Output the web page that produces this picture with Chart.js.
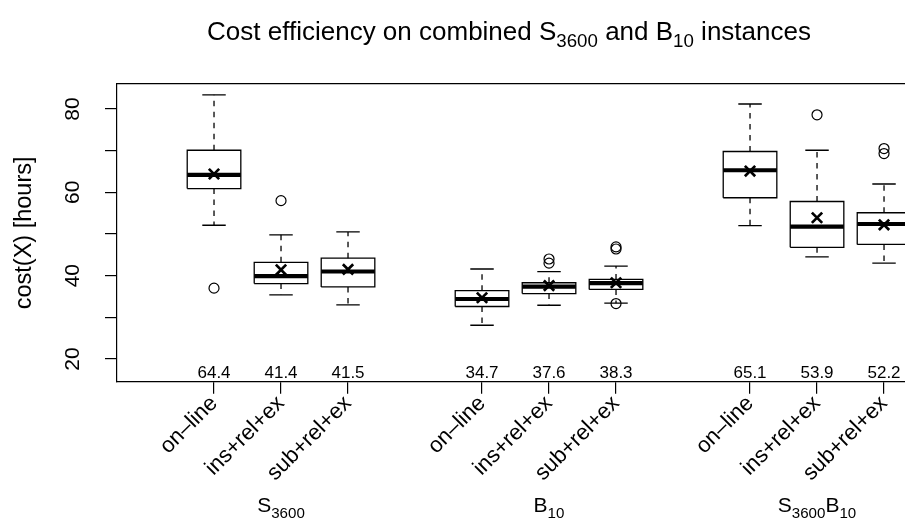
<!DOCTYPE html>
<html>
<head>
<meta charset="utf-8">
<script src="https://cdn.jsdelivr.net/npm/chart.js@4.4.1/dist/chart.umd.min.js"></script>
<style>
  html, body { margin: 0; padding: 0; background: #fff; overflow: hidden; }
  #wrap { width: 905px; height: 524px; }
</style>
</head>
<body>
<div id="wrap"><canvas id="chart" width="905" height="524"></canvas></div>
<script>
// ---- data -------------------------------------------------------------
const methods   = ['on\u2013line', 'ins+rel+ex', 'sub+rel+ex'];
const positions = [1, 2, 3, 5, 6, 7, 9, 10, 11];
const groupCenters = [2, 6, 10];
// group names as [text, isSubscript] runs
const groupLabels = [
  [['S', false], ['3600', true]],
  [['B', false], ['10', true]],
  [['S', false], ['3600', true], ['B', false], ['10', true]]
];
const lowerWhisker = [52.1, 35.4, 33.0, 28.1, 32.9, 33.4, 52.0, 44.5, 43.0];
const lowerQuart   = [60.9, 38.1, 37.3, 32.6, 35.7, 36.7, 58.7, 46.8, 47.5];
const medians      = [64.2, 39.9, 41.0, 34.4, 37.35, 38.2, 65.3, 51.75, 52.4];
const upperQuart   = [70.1, 43.2, 44.2, 36.4, 38.3, 39.1, 69.8, 57.8, 55.1];
const upperWhisker = [83.4, 49.8, 50.5, 41.6, 40.95, 42.3, 81.2, 70.1, 62.0];
const means        = [64.4, 41.4, 41.5, 34.7, 37.6, 38.3, 65.1, 53.9, 52.2];
const outliers     = [[37.0], [58.0], [], [], [44.0, 43.0], [46.9, 46.4, 33.3], [], [78.6], [70.5, 69.3]];
const yTickValues  = [20, 30, 40, 50, 60, 70, 80];
const yTickLabels  = ['20', '', '40', '', '60', '', '80'];
const meanLabelY   = 16.6;

// ---- geometry of a box (in x-axis units) ------------------------------
const BOX_HALF = 0.4;
const CAP_HALF = 0.175;
const GAP = (x) => ({ x: x, y: null });

const boxPts = [], medPts = [], whiskPts = [], capPts = [], meanPts = [], outPts = [];
positions.forEach((p, i) => {
  boxPts.push({ x: p - BOX_HALF, y: lowerQuart[i] }, { x: p + BOX_HALF, y: lowerQuart[i] },
              { x: p + BOX_HALF, y: upperQuart[i] }, { x: p - BOX_HALF, y: upperQuart[i] },
              { x: p - BOX_HALF, y: lowerQuart[i] }, GAP(p));
  medPts.push({ x: p - BOX_HALF, y: medians[i] }, { x: p + BOX_HALF, y: medians[i] }, GAP(p));
  whiskPts.push({ x: p, y: upperQuart[i] }, { x: p, y: upperWhisker[i] }, GAP(p),
                { x: p, y: lowerQuart[i] }, { x: p, y: lowerWhisker[i] }, GAP(p));
  capPts.push({ x: p - CAP_HALF, y: upperWhisker[i] }, { x: p + CAP_HALF, y: upperWhisker[i] }, GAP(p),
              { x: p - CAP_HALF, y: lowerWhisker[i] }, { x: p + CAP_HALF, y: lowerWhisker[i] }, GAP(p));
  meanPts.push({ x: p, y: means[i] });
  outliers[i].forEach(v => outPts.push({ x: p, y: v }));
});

const FONT = '"Liberation Sans", Arial, Helvetica, sans-serif';
const lineStyle = { type: 'line', pointRadius: 0, pointHoverRadius: 0, tension: 0, fill: false,
                    borderColor: '#000', spanGaps: false, borderCapStyle: 'butt' };

// ---- text with subscripts ----------------------------------------------
function drawRuns(ctx, runs, cx, baseline, size) {
  const subSize = size * 0.72;
  const widths = runs.map(([t, sub]) => {
    ctx.font = (sub ? subSize : size) + 'px ' + FONT;
    return ctx.measureText(t).width;
  });
  let x = cx - widths.reduce((a, b) => a + b, 0) / 2;
  ctx.textAlign = 'left';
  ctx.textBaseline = 'alphabetic';
  runs.forEach(([t, sub], k) => {
    ctx.font = (sub ? subSize : size) + 'px ' + FONT;
    ctx.fillText(t, x, baseline + (sub ? size * 0.28 : 0));
    x += widths[k];
  });
}

const annotations = {
  id: 'annotations',
  afterDraw(chart) {
    const { ctx, scales: { x, y } } = chart;
    ctx.save();
    ctx.fillStyle = '#000';
    // main title
    drawRuns(ctx, [['Cost efficiency on combined ', false], ['S', false], ['3600', true],
                   [' and ', false], ['B', false], ['10', true], [' instances', false]],
             509, 40, 26);
    // mean values along the bottom of the plot
    ctx.font = '17px ' + FONT;
    ctx.textAlign = 'center';
    ctx.textBaseline = 'middle';
    positions.forEach((p, i) => {
      ctx.fillText(means[i].toFixed(1), x.getPixelForValue(p), y.getPixelForValue(meanLabelY));
    });
    // group names under the method labels
    groupCenters.forEach((g, k) => drawRuns(ctx, groupLabels[k], x.getPixelForValue(g), 512, 21));
    ctx.restore();
  }
};

new Chart(document.getElementById('chart'), {
  type: 'line',
  data: {
    datasets: [
      Object.assign({}, lineStyle, { data: whiskPts, borderWidth: 1.3, borderDash: [5.5, 5.5] }),
      Object.assign({}, lineStyle, { data: capPts, borderWidth: 1.3 }),
      Object.assign({}, lineStyle, { data: boxPts, borderWidth: 1.3, borderJoinStyle: 'miter' }),
      Object.assign({}, lineStyle, { data: medPts, borderWidth: 4.2 }),
      { type: 'scatter', data: outPts, pointStyle: 'circle', pointRadius: 5, pointHoverRadius: 5,
        borderColor: '#000', backgroundColor: 'rgba(0,0,0,0)', pointBorderWidth: 1.2, borderWidth: 1.2 },
      { type: 'scatter', data: meanPts, pointStyle: 'crossRot', pointRadius: 7.3, pointHoverRadius: 7.3,
        borderColor: '#000', pointBorderWidth: 2.7, borderWidth: 2.7 }
    ]
  },
  options: {
    responsive: false,
    animation: false,
    devicePixelRatio: 1,
    events: [],
    layout: { autoPadding: false, padding: { top: 84, left: 0, right: 0, bottom: 0 } },
    plugins: { legend: { display: false }, tooltip: { enabled: false }, title: { display: false } },
    scales: {
      x: {
        type: 'linear', position: 'bottom', min: -0.448, max: 11.313,
        afterBuildTicks: s => { s.ticks = positions.map(v => ({ value: v })); },
        afterFit: s => { s.height = 524 - 381.7; s.paddingLeft = 0; s.paddingRight = 0; },
        grid: { display: true, drawOnChartArea: false, drawTicks: true, tickLength: 12, color: '#000', lineWidth: 1.2 },
        border: { display: true, color: '#000', width: 1.2 },
        ticks: {
          autoSkip: false, minRotation: 45, maxRotation: 45, padding: -3, color: '#000',
          font: { family: FONT, size: 22 },
          callback: (v, idx) => methods[idx % 3]
        }
      },
      xTop: {
        type: 'linear', position: 'top', min: -0.448, max: 11.313,
        afterFit: s => { s.height = 0; s.paddingLeft = 0; s.paddingRight = 0; },
        grid: { display: false },
        border: { display: true, color: '#000', width: 1.2 },
        ticks: { display: false }
      },
      y: {
        type: 'linear', position: 'left', min: 14.55, max: 86.0,
        afterBuildTicks: s => { s.ticks = yTickValues.map(v => ({ value: v })); },
        afterFit: s => { s.width = 117; s.paddingTop = 0; s.paddingBottom = 0; },
        grid: { display: true, drawOnChartArea: false, drawTicks: true, tickLength: 12, color: '#000', lineWidth: 1.2 },
        border: { display: true, color: '#000', width: 1.2 },
        ticks: {
          autoSkip: false, minRotation: 90, maxRotation: 90, crossAlign: 'center', padding: 20, color: '#000',
          font: { family: FONT, size: 21 },
          callback: (v, idx) => yTickLabels[idx]
        },
        title: { display: true, text: 'cost(X) [hours]', color: '#000', font: { family: FONT, size: 23.5 },
                 padding: { top: 10, bottom: 0 } }
      }
    }
  },
  plugins: [annotations]
});
</script>
</body>
</html>
